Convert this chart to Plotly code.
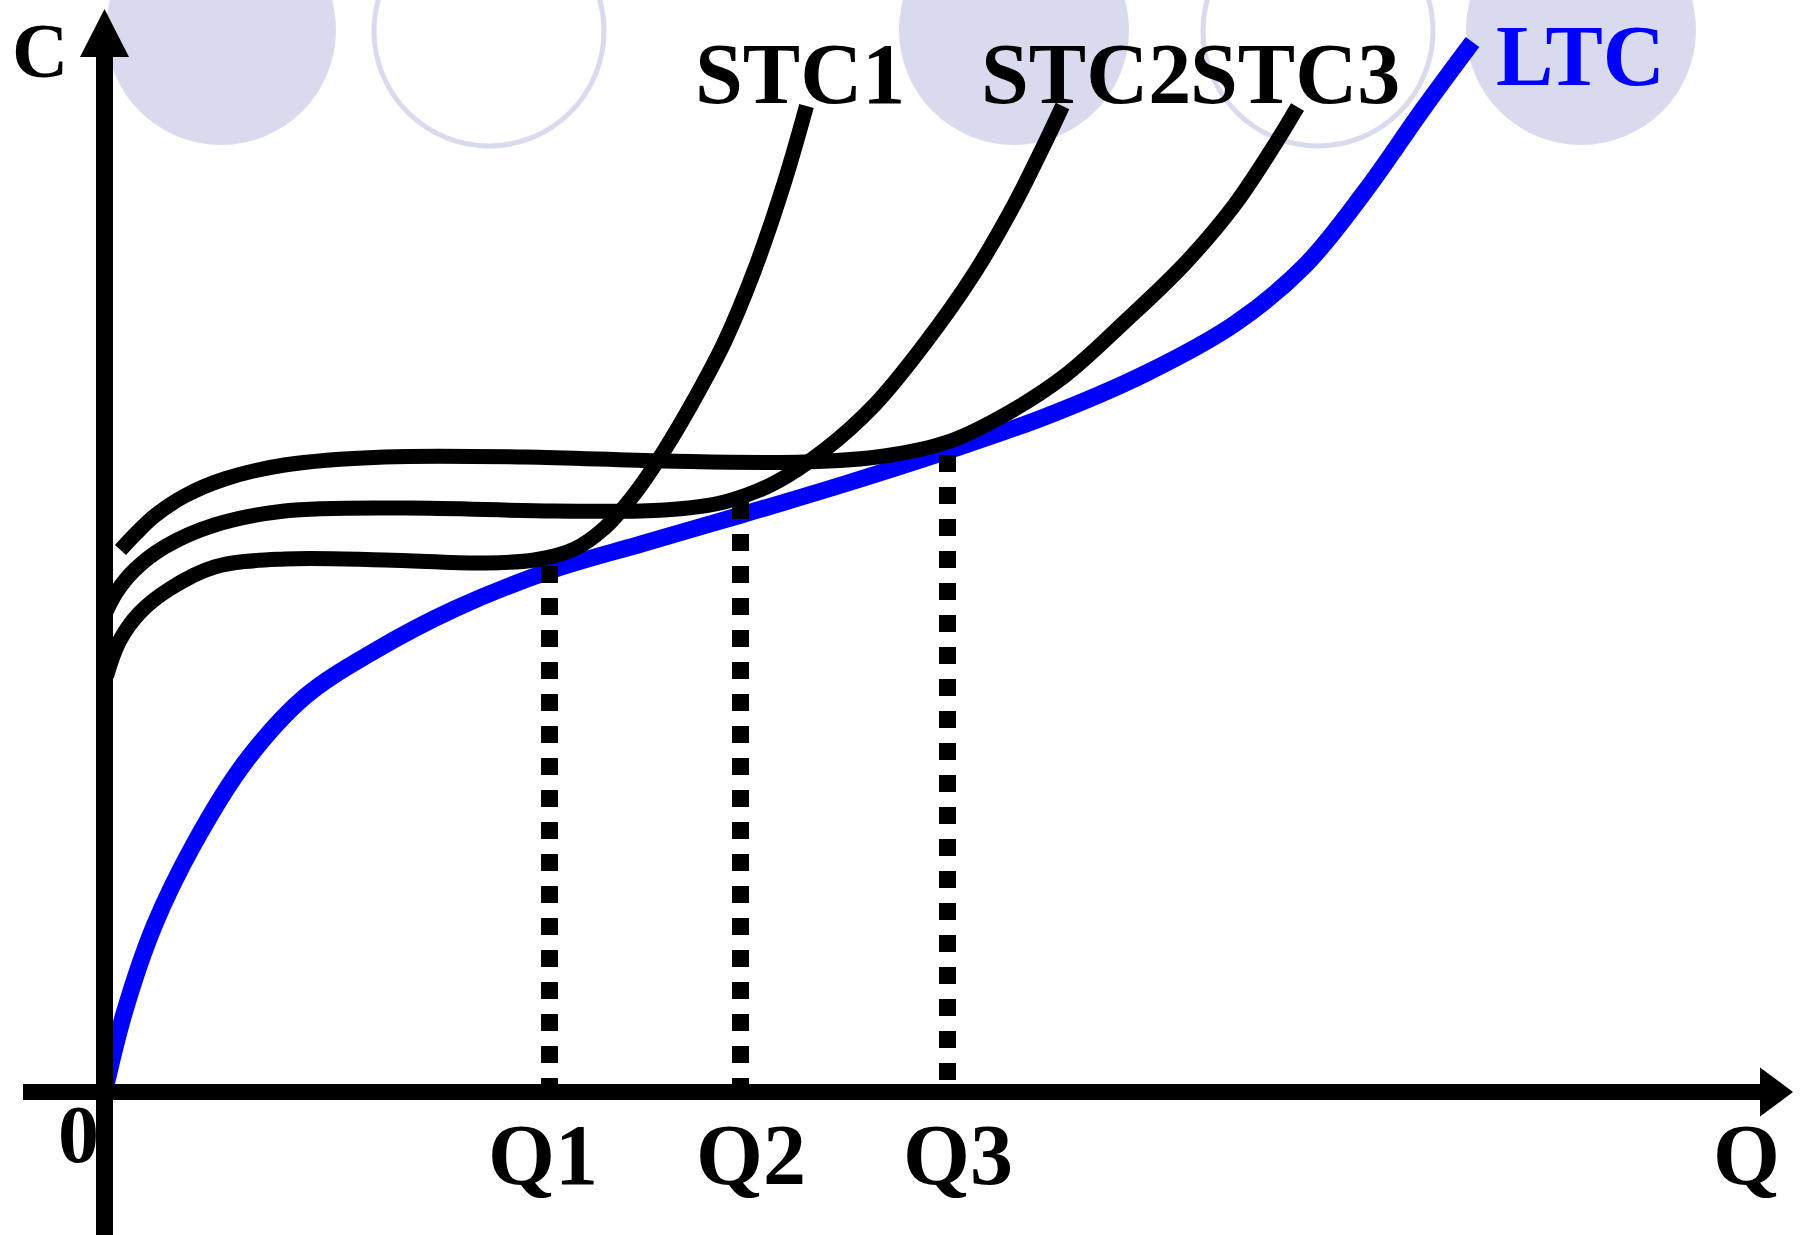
import plotly.graph_objects as go

# ---------------- data (Q = output, C = cost; arbitrary units) ----------------
ltc_q = [0, 20, 50, 90, 140, 200, 270, 350, 445, 540, 640, 740, 843, 940, 1040, 1130, 1200,
         1260, 1320, 1368]
ltc_c = [0, 80, 167, 249, 329, 395, 441, 483, 521, 549, 578, 608, 641, 675, 718, 768, 826,
         900, 985, 1050]

stc1_q = [2, 15, 35, 65, 110, 180, 280, 380, 430, 470, 500, 530, 560, 590, 620, 650, 680, 702]
stc1_c = [416, 451, 479, 503, 525, 533, 532, 529, 532, 543, 564, 598, 642, 693, 750, 822, 910, 986]

stc2_q = [1, 12, 30, 60, 110, 180, 300, 450, 560, 620, 670, 720, 770, 820, 870, 910, 940, 958]
stc2_c = [479, 500, 522, 545, 567, 581, 584, 581, 582, 590, 609, 642, 687, 748, 819, 888, 948, 986]

stc3_q = [16, 30, 50, 80, 120, 180, 280, 420, 560, 700, 780, 846, 900, 960, 1020, 1080, 1130,
          1170, 1193]
stc3_c = [542, 557, 576, 596, 613, 627, 635, 635, 631, 630, 636, 651, 677, 716, 770, 828, 887,
          947, 985]

q_marks = [445, 636, 843]          # Q1, Q2, Q3
q_mark_top = [526, 590, 637]       # where each dotted guide meets LTC
q_labels = ["Q1", "Q2", "Q3"]
curve_labels = ["STC1", "STC2", "STC3"]

# ---------------- figure ----------------
X0, X1 = -104.5, 1695.5
Y0, Y1 = -143, 1092
BLACK = "#000000"
BLUE = "#0000FF"
LAV = "#DADAEE"
FONT = "Liberation Serif, Times New Roman, serif"
SMOOTH = 1.0

fig = go.Figure()

# LTC (blue)
fig.add_trace(go.Scatter(x=ltc_q, y=ltc_c, mode="lines",
                         line=dict(color=BLUE, width=17, shape="spline", smoothing=SMOOTH),
                         hoverinfo="skip"))

# dotted guides
for q, top in zip(q_marks, q_mark_top):
    fig.add_trace(go.Scatter(x=[q, q], y=[top, 0], mode="lines",
                             line=dict(color=BLACK, width=17, dash="17px,15px"),
                             hoverinfo="skip"))

# STC curves
for qs, cs in [(stc1_q, stc1_c), (stc2_q, stc2_c), (stc3_q, stc3_c)]:
    fig.add_trace(go.Scatter(x=qs, y=cs, mode="lines",
                             line=dict(color=BLACK, width=15, shape="spline", smoothing=SMOOTH),
                             hoverinfo="skip"))

shapes = []
# decorative background circles
R = 115
circles = [(116.5, 1062, True), (384.5, 1061, False), (909.5, 1062, True),
           (1213.5, 1061, False), (1476.5, 1062, True)]
for cx, cy, filled in circles:
    shapes.append(dict(type="circle", xref="x", yref="y", layer="below",
                       x0=cx - R, x1=cx + R, y0=cy - R, y1=cy + R,
                       fillcolor=LAV if filled else "rgba(0,0,0,0)",
                       line=dict(color=LAV, width=0 if filled else 5)))

# axes (drawn above the curves)
shapes.append(dict(type="line", xref="x", yref="y", layer="above",
                   x0=0, x1=0, y0=Y0, y1=1040, line=dict(color=BLACK, width=17)))
shapes.append(dict(type="line", xref="x", yref="y", layer="above",
                   x0=-81.5, x1=1660, y0=0, y1=0, line=dict(color=BLACK, width=16)))
shapes.append(dict(type="path", xref="x", yref="y", layer="above",
                   path="M -24.5 1035 L 0 1083 L 24.5 1035 Z",
                   fillcolor=BLACK, line=dict(color=BLACK, width=0)))
shapes.append(dict(type="path", xref="x", yref="y", layer="above",
                   path="M 1655.5 24.5 L 1688.5 0 L 1655.5 -24.5 Z",
                   fillcolor=BLACK, line=dict(color=BLACK, width=0)))

annotations = []
def label(text, x, y, size=86, color=BLACK):
    annotations.append(dict(text="<b>%s</b>" % text, x=x, y=y, xref="x", yref="y",
                            showarrow=False, xanchor="center", yanchor="middle",
                            font=dict(family=FONT, size=size, color=color)))

label("C", -64.5, 1042, size=78)
for t, x in zip(curve_labels, [695.5, 981.5, 1190]):
    label(t, x, 1018)
label("LTC", 1475.5, 1036, color=BLUE)
for t, x in zip(q_labels, [438.5, 646.5, 853.5]):
    label(t, x, -63)
label("Q", 1641.5, -63)
label("0", -26.5, -42, size=82)

fig.update_layout(
    width=1800, height=1235,
    margin=dict(l=0, r=0, t=0, b=0),
    paper_bgcolor="white", plot_bgcolor="white",
    showlegend=False,
    xaxis=dict(range=[X0, X1], visible=False, fixedrange=True),
    yaxis=dict(range=[Y0, Y1], visible=False, fixedrange=True),
    shapes=shapes, annotations=annotations,
)

fig.write_html("out.html", config={"displayModeBar": False},
               post_script="document.body.style.margin='0';")
